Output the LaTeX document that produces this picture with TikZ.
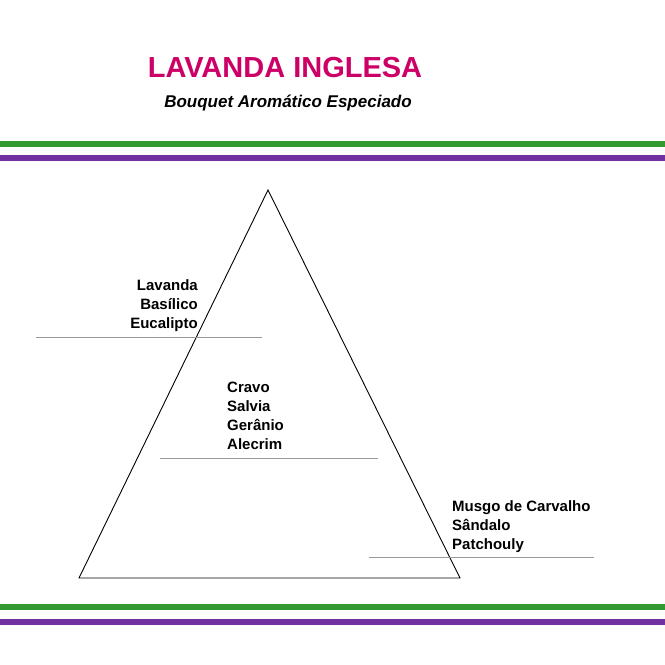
\documentclass[tikz,border=0pt]{standalone}
\usepackage{fontspec}
\setmainfont{Liberation Sans}
\definecolor{mag}{HTML}{CC0066}
\definecolor{grn}{HTML}{339933}
\definecolor{pur}{HTML}{7030A0}
\begin{document}
\begin{tikzpicture}[x=1pt,y=-1pt,
  lbl/.style={font=\fontsize{15}{19}\selectfont\bfseries, inner sep=0pt},
  rule/.style={draw=gray!80, line width=0.6pt}]
\useasboundingbox (0,0) rectangle (665,665);
\fill[white] (0,0) rectangle (665,665);
\node[font=\fontsize{29}{32}\selectfont\bfseries, text=mag] (t) at (285,68) {LAVANDA INGLESA};
\node[font=\fontsize{17}{20}\selectfont\bfseries\itshape] (s) at (288,103) {Bouquet Aromático Especiado};
\fill[grn] (0,141) rectangle (665,147);
\fill[pur] (0,155) rectangle (665,161);
\fill[grn] (0,604) rectangle (665,610);
\fill[pur] (0,619) rectangle (665,625);
\coordinate (A) at (268,190);
\coordinate (B) at (79,578);
\coordinate (C) at (460,578);
\draw[line width=0.9pt] (A) -- (B) -- (C) -- cycle;
\coordinate (l1a) at (36,337); \coordinate (l1b) at (262,337);
\coordinate (l2a) at (160,458); \coordinate (l2b) at (378,458);
\coordinate (l3a) at (369,557); \coordinate (l3b) at (594,557);
\draw[rule] (l1a) -- (l1b);
\draw[rule] (l2a) -- (l2b);
\draw[rule] (l3a) -- (l3b);
\node[lbl, align=right, anchor=north east] (n1) at (198,279) {Lavanda\\Basílico\\Eucalipto};
\node[lbl, align=left, anchor=north west] (n2) at (227,382) {Cravo\\Salvia\\Gerânio\\Alecrim};
\node[lbl, align=left, anchor=north west] (n3) at (452,500) {Musgo de Carvalho\\Sândalo\\Patchouly};
\end{tikzpicture}
\end{document}
